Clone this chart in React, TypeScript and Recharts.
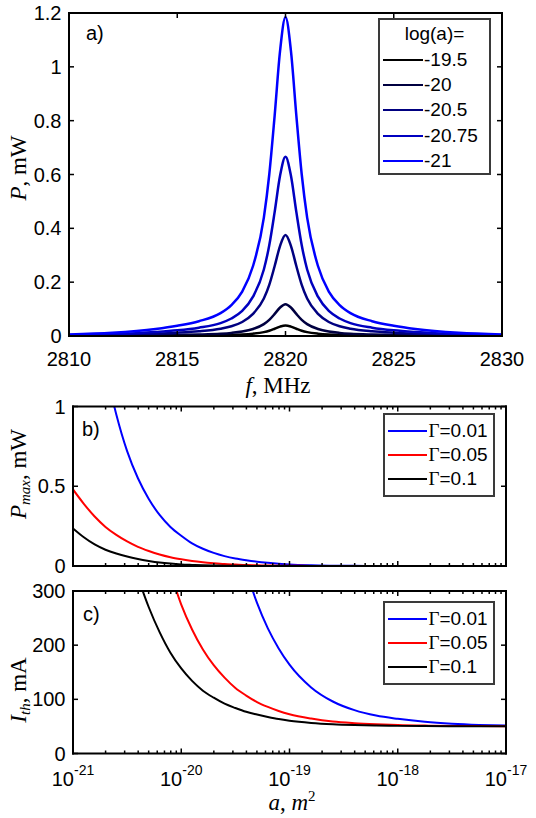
import React from 'react';
import { LineChart, Line, XAxis, YAxis } from 'recharts';

const SANS = '"Liberation Sans", Arial, Helvetica, sans-serif';
const SERIF = '"Liberation Serif", "Times New Roman", serif';

// ---------- panel a: spectra ----------
const freqMHz = [2810, 2812, 2814, 2815, 2816, 2817, 2817.5, 2818, 2818.5, 2819, 2819.25, 2819.5, 2819.75, 2820,
  2820.25, 2820.5, 2820.75, 2821, 2821.5, 2822, 2822.5, 2823, 2824, 2825, 2826, 2828, 2830];

const pLogM195 = [0.0002, 0.0004, 0.0009, 0.0013, 0.0018, 0.0028, 0.0038, 0.0054, 0.0086, 0.0145, 0.0197, 0.027, 0.0349, 0.039,
  0.0349, 0.027, 0.0197, 0.0145, 0.0086, 0.0054, 0.0038, 0.0028, 0.0018, 0.0013, 0.0009, 0.0004, 0.0002];
const pLogM20 = [0.0006, 0.0012, 0.0026, 0.0038, 0.0055, 0.0085, 0.0115, 0.0165, 0.026, 0.044, 0.06, 0.082, 0.106, 0.118,
  0.106, 0.082, 0.06, 0.044, 0.026, 0.0165, 0.0115, 0.0085, 0.0055, 0.0038, 0.0026, 0.0012, 0.0006];
const pLogM205 = [0.0019, 0.0038, 0.0082, 0.012, 0.0174, 0.027, 0.036, 0.052, 0.082, 0.139, 0.19, 0.26, 0.335, 0.375,
  0.335, 0.26, 0.19, 0.139, 0.082, 0.052, 0.036, 0.027, 0.0174, 0.012, 0.0082, 0.0038, 0.0019];
const pLogM2075 = [0.0034, 0.0067, 0.0146, 0.021, 0.031, 0.048, 0.065, 0.093, 0.146, 0.247, 0.337, 0.461, 0.596, 0.666,
  0.596, 0.461, 0.337, 0.247, 0.146, 0.093, 0.065, 0.048, 0.031, 0.021, 0.0146, 0.0067, 0.0034];
const pLogM21 = [0.006, 0.012, 0.026, 0.038, 0.055, 0.085, 0.115, 0.165, 0.26, 0.44, 0.6, 0.82, 1.06, 1.185,
  1.06, 0.82, 0.6, 0.44, 0.26, 0.165, 0.115, 0.085, 0.055, 0.038, 0.026, 0.012, 0.006];

const freqTicks = [2810, 2815, 2820, 2825, 2830];
const powerTicks = [0, 0.2, 0.4, 0.6, 0.8, 1, 1.2];

const seriesA = [
  { key: 'm195', label: '-19.5', color: '#000000', values: pLogM195 },
  { key: 'm20', label: '-20', color: '#000040', values: pLogM20 },
  { key: 'm205', label: '-20.5', color: '#000080', values: pLogM205 },
  { key: 'm2075', label: '-20.75', color: '#0000c0', values: pLogM2075 },
  { key: 'm21', label: '-21', color: '#0000ff', values: pLogM21 },
];

// ---------- panels b, c: vs log10(a) ----------
const logA = [-21, -20.9, -20.8, -20.7, -20.6, -20.5, -20.4, -20.3, -20.2, -20.1, -20, -19.9, -19.8, -19.7, -19.6,
  -19.5, -19.4, -19.3, -19.2, -19.1, -19, -18.8, -18.6, -18.4, -18.2, -18, -17.75, -17.5, -17.25, -17];

const pmaxG001 = [null, null, null, 1.24, 0.95, 0.72, 0.55, 0.42, 0.32, 0.245, 0.19, 0.142, 0.108, 0.082, 0.062,
  0.047, 0.036, 0.027, 0.02, 0.014, 0.009, 0.004, 0.002, 0.001, 0.0005, 0.0003, 0.0002, 0.0001, 0, 0];
const pmaxG005 = [0.48, 0.39, 0.31, 0.245, 0.195, 0.154, 0.12, 0.094, 0.072, 0.055, 0.042, 0.031, 0.023, 0.017, 0.012,
  0.009, 0.006, 0.0045, 0.003, 0.002, 0.0015, 0.0007, 0.0003, 0.0001, 0, 0, 0, 0, 0, 0];
const pmaxG01 = [0.235, 0.18, 0.135, 0.102, 0.078, 0.059, 0.044, 0.032, 0.022, 0.015, 0.01, 0.007, 0.0045, 0.003, 0.002,
  0.0012, 0.0008, 0.0005, 0.0003, 0.0002, 0.0001, 0, 0, 0, 0, 0, 0, 0, 0, 0];

const ithG001 = [null, null, null, null, null, null, null, null, null, null, null, null, null, null, null,
  null, 337, 278, 231, 194, 164, 122, 96, 80, 70, 64, 58.5, 55, 52.8, 51.5];
const ithG005 = [null, null, null, null, null, null, null, null, null, 334, 275, 229, 192, 163, 140,
  121, 107, 95, 86, 78.5, 72.5, 64.5, 59, 56, 54, 52.5, 51.5, 51, 50.6, 50.4];
const ithG01 = [null, null, null, null, null, null, 325, 270, 224, 186, 157, 134, 116, 103, 92,
  84, 77, 72, 67.5, 63.5, 60.5, 56.5, 54, 52.5, 51.5, 51, 50.6, 50.3, 50.2, 50.1];

const decadeTicks = [-21, -20, -19, -18, -17];
const minorTicks = [-21, -20, -19, -18].flatMap((n) => [2, 3, 4, 5, 6, 7, 8, 9].map((k) => n + Math.log10(k)));
const logTicks = [...decadeTicks, ...minorTicks];
const pmaxTicks = [0, 0.5, 1];
const ithTicks = [0, 100, 200, 300];

const seriesG = [
  { key: 'g001', label: '0.01', color: '#0000ff', pmax: pmaxG001, ith: ithG001 },
  { key: 'g005', label: '0.05', color: '#ff0000', pmax: pmaxG005, ith: ithG005 },
  { key: 'g01', label: '0.1', color: '#000000', pmax: pmaxG01, ith: ithG01 },
];

const rowsA = freqMHz.map((f, i) => {
  const r: any = { f };
  seriesA.forEach((s) => { r[s.key] = s.values[i]; });
  return r;
});
const rowsB = logA.map((x, i) => {
  const r: any = { x };
  seriesG.forEach((s) => { r[s.key] = s.pmax[i]; });
  return r;
});
const rowsC = logA.map((x, i) => {
  const r: any = { x };
  seriesG.forEach((s) => { r[s.key] = s.ith[i]; });
  return r;
});

const AXIS = { stroke: '#000', strokeWidth: 2, strokeLinecap: 'square' as const };

// inward tick marks (MATLAB style) + labels
const Tick = (p: any) => {
  const { x, y, payload, side, majors, fmt } = p;
  const v = payload.value;
  const major = majors.some((m: number) => Math.abs(m - v) < 1e-6);
  const len = major ? 5 : 3;
  const dx = side === 'left' ? len : side === 'right' ? -len : 0;
  const dy = side === 'bottom' ? -len : side === 'top' ? len : 0;
  let label = null;
  if (major && fmt === 'num' && side === 'bottom') {
    label = <text x={x} y={y + 15.5} dy="0.71em" textAnchor="middle" fontFamily={SANS} fontSize={20} fill="#000">{v}</text>;
  }
  if (major && fmt === 'num' && side === 'left') {
    label = <text x={x - 7.5} y={y} dy="0.355em" textAnchor="end" fontFamily={SANS} fontSize={20} fill="#000">{v}</text>;
  }
  if (major && fmt === 'pow') {
    label = (
      <text x={x} y={y + 18.5} textAnchor="middle" fontFamily={SANS} fontSize={20} fill="#000">
        <tspan dy="0.71em">10</tspan>
        <tspan dy={-11} fontSize={14}>{v}</tspan>
      </text>
    );
  }
  return (
    <g>
      <line x1={x} y1={y} x2={x + dx} y2={y + dy} stroke="#000" strokeWidth={1.5} />
      {label}
    </g>
  );
};

const axisCommon = { tickSize: 0, tickMargin: 0, tickLine: false, axisLine: AXIS, interval: 0 as const, allowDataOverflow: true };

function LegendA() {
  return (
    <div style={{ position: 'absolute', left: 378, top: 18, width: 113, height: 157, boxSizing: 'border-box',
      border: '2px solid #3a3a3a', background: '#fff', fontFamily: SANS, fontSize: 19, color: '#000' }}>
      <div style={{ height: 27, lineHeight: '27px', textAlign: 'center' }}>log(a)=</div>
      {seriesA.map((s) => (
        <div key={s.key} style={{ height: 25.3, display: 'flex', alignItems: 'center' }}>
          <div style={{ marginLeft: 3, width: 40, borderTop: `2.5px solid ${s.color}` }} />
          <span style={{ marginLeft: 1 }}>{s.label}</span>
        </div>
      ))}
    </div>
  );
}

function LegendG({ top }: { top: number }) {
  return (
    <div style={{ position: 'absolute', left: 383, top, width: 112, height: 84, boxSizing: 'border-box',
      border: '2px solid #3a3a3a', background: '#fff', paddingTop: 4, fontFamily: SANS, fontSize: 19, color: '#000' }}>
      {seriesG.map((s) => (
        <div key={s.key} style={{ height: 24, display: 'flex', alignItems: 'center' }}>
          <div style={{ marginLeft: 3, width: 38.5, borderTop: `2px solid ${s.color}` }} />
          <span style={{ marginLeft: 2 }}><span style={{ fontFamily: SERIF }}>Γ</span>={s.label}</span>
        </div>
      ))}
    </div>
  );
}

export default function App() {
  return (
    <div style={{ position: 'absolute', left: 0, top: 0, width: 536, height: 818, background: '#fff', overflow: 'hidden' }}>
      {/* a) */}
      <div style={{ position: 'absolute', left: 0, top: 0 }}>
        <LineChart width={536} height={400} data={rowsA} margin={{ top: 0, right: 0, bottom: 0, left: 0 }}>
          <XAxis dataKey="f" type="number" domain={[2810, 2830]} ticks={freqTicks} height={64} {...axisCommon}
            tick={(p: any) => <Tick {...p} side="bottom" majors={freqTicks} fmt="num" />} />
          <XAxis xAxisId="top" orientation="top" dataKey="f" type="number" domain={[2810, 2830]} ticks={freqTicks} height={13}
            {...axisCommon} tick={(p: any) => <Tick {...p} side="top" majors={freqTicks} />} />
          <YAxis type="number" domain={[0, 1.2]} ticks={powerTicks} width={69} {...axisCommon}
            tick={(p: any) => <Tick {...p} side="left" majors={powerTicks} fmt="num" />} />
          <YAxis yAxisId="right" orientation="right" type="number" domain={[0, 1.2]} ticks={powerTicks} width={34}
            {...axisCommon} tick={(p: any) => <Tick {...p} side="right" majors={powerTicks} />} />
          {seriesA.map((s) => (
            <Line key={s.key} type="monotone" dataKey={s.key} stroke={s.color} strokeWidth={2.5} dot={false}
              isAnimationActive={false} strokeLinejoin="round" />
          ))}
        </LineChart>
      </div>

      {/* b) */}
      <div style={{ position: 'absolute', left: 0, top: 380 }}>
        <LineChart width={536} height={210} data={rowsB} margin={{ top: 0, right: 0, bottom: 0, left: 0 }}>
          <XAxis dataKey="x" type="number" domain={[-21, -17]} ticks={logTicks} height={24} {...axisCommon}
            tick={(p: any) => <Tick {...p} side="bottom" majors={decadeTicks} />} />
          <XAxis xAxisId="top" orientation="top" dataKey="x" type="number" domain={[-21, -17]} ticks={logTicks} height={26.5}
            {...axisCommon} tick={(p: any) => <Tick {...p} side="top" majors={decadeTicks} />} />
          <YAxis type="number" domain={[0, 1]} ticks={pmaxTicks} width={73} {...axisCommon}
            tick={(p: any) => <Tick {...p} side="left" majors={pmaxTicks} fmt="num" />} />
          <YAxis yAxisId="right" orientation="right" type="number" domain={[0, 1]} ticks={pmaxTicks} width={30}
            {...axisCommon} tick={(p: any) => <Tick {...p} side="right" majors={pmaxTicks} />} />
          {seriesG.map((s) => (
            <Line key={s.key} type="monotone" dataKey={s.key} stroke={s.color} strokeWidth={2} dot={false}
              isAnimationActive={false} />
          ))}
        </LineChart>
      </div>

      {/* c) */}
      <div style={{ position: 'absolute', left: 0, top: 570 }}>
        <LineChart width={536} height={248} data={rowsC} margin={{ top: 0, right: 0, bottom: 0, left: 0 }}>
          <XAxis dataKey="x" type="number" domain={[-21, -17]} ticks={logTicks} height={64.5} {...axisCommon}
            tick={(p: any) => <Tick {...p} side="bottom" majors={decadeTicks} fmt="pow" />} />
          <XAxis xAxisId="top" orientation="top" dataKey="x" type="number" domain={[-21, -17]} ticks={logTicks} height={21}
            {...axisCommon} tick={(p: any) => <Tick {...p} side="top" majors={decadeTicks} />} />
          <YAxis type="number" domain={[0, 300]} ticks={ithTicks} width={73} {...axisCommon}
            tick={(p: any) => <Tick {...p} side="left" majors={ithTicks} fmt="num" />} />
          <YAxis yAxisId="right" orientation="right" type="number" domain={[0, 300]} ticks={ithTicks} width={30}
            {...axisCommon} tick={(p: any) => <Tick {...p} side="right" majors={ithTicks} />} />
          {seriesG.map((s) => (
            <Line key={s.key} type="monotone" dataKey={s.key} stroke={s.color} strokeWidth={2} dot={false}
              isAnimationActive={false} />
          ))}
        </LineChart>
      </div>

      {/* axis titles and panel letters */}
      <svg width={536} height={818} style={{ position: 'absolute', left: 0, top: 0, pointerEvents: 'none' }}>
        <g fontFamily={SANS} fontSize={20} fill="#000">
          <text x={86} y={40}>a)</text>
          <text x={82} y={436}>b)</text>
          <text x={83} y={621}>c)</text>
        </g>
        <g fontFamily={SERIF} fontSize={23} fill="#000">
          <text x={278} y={393} textAnchor="middle">
            <tspan fontStyle="italic">f</tspan>, MHz
          </text>
          <text x={26} y={168} textAnchor="middle" transform="rotate(-90 26 168)">
            <tspan fontStyle="italic">P</tspan>, mW
          </text>
          <text x={26} y={474} textAnchor="middle" transform="rotate(-90 26 474)">
            <tspan fontStyle="italic">P</tspan>
            <tspan fontStyle="italic" fontSize={15} dy={4}>max</tspan>
            <tspan dy={-4}>, mW</tspan>
          </text>
          <text x={26} y={690} textAnchor="middle" transform="rotate(-90 26 690)">
            <tspan fontStyle="italic">I</tspan>
            <tspan fontStyle="italic" fontSize={15} dy={4}>th</tspan>
            <tspan dy={-4}>, mA</tspan>
          </text>
          <text x={292} y={810} textAnchor="middle">
            <tspan fontStyle="italic">a</tspan>, <tspan fontStyle="italic">m</tspan>
            <tspan fontSize={15} dy={-9}>2</tspan>
          </text>
        </g>
      </svg>

      <LegendA />
      <LegendG top={413} />
      <LegendG top={601} />
    </div>
  );
}
